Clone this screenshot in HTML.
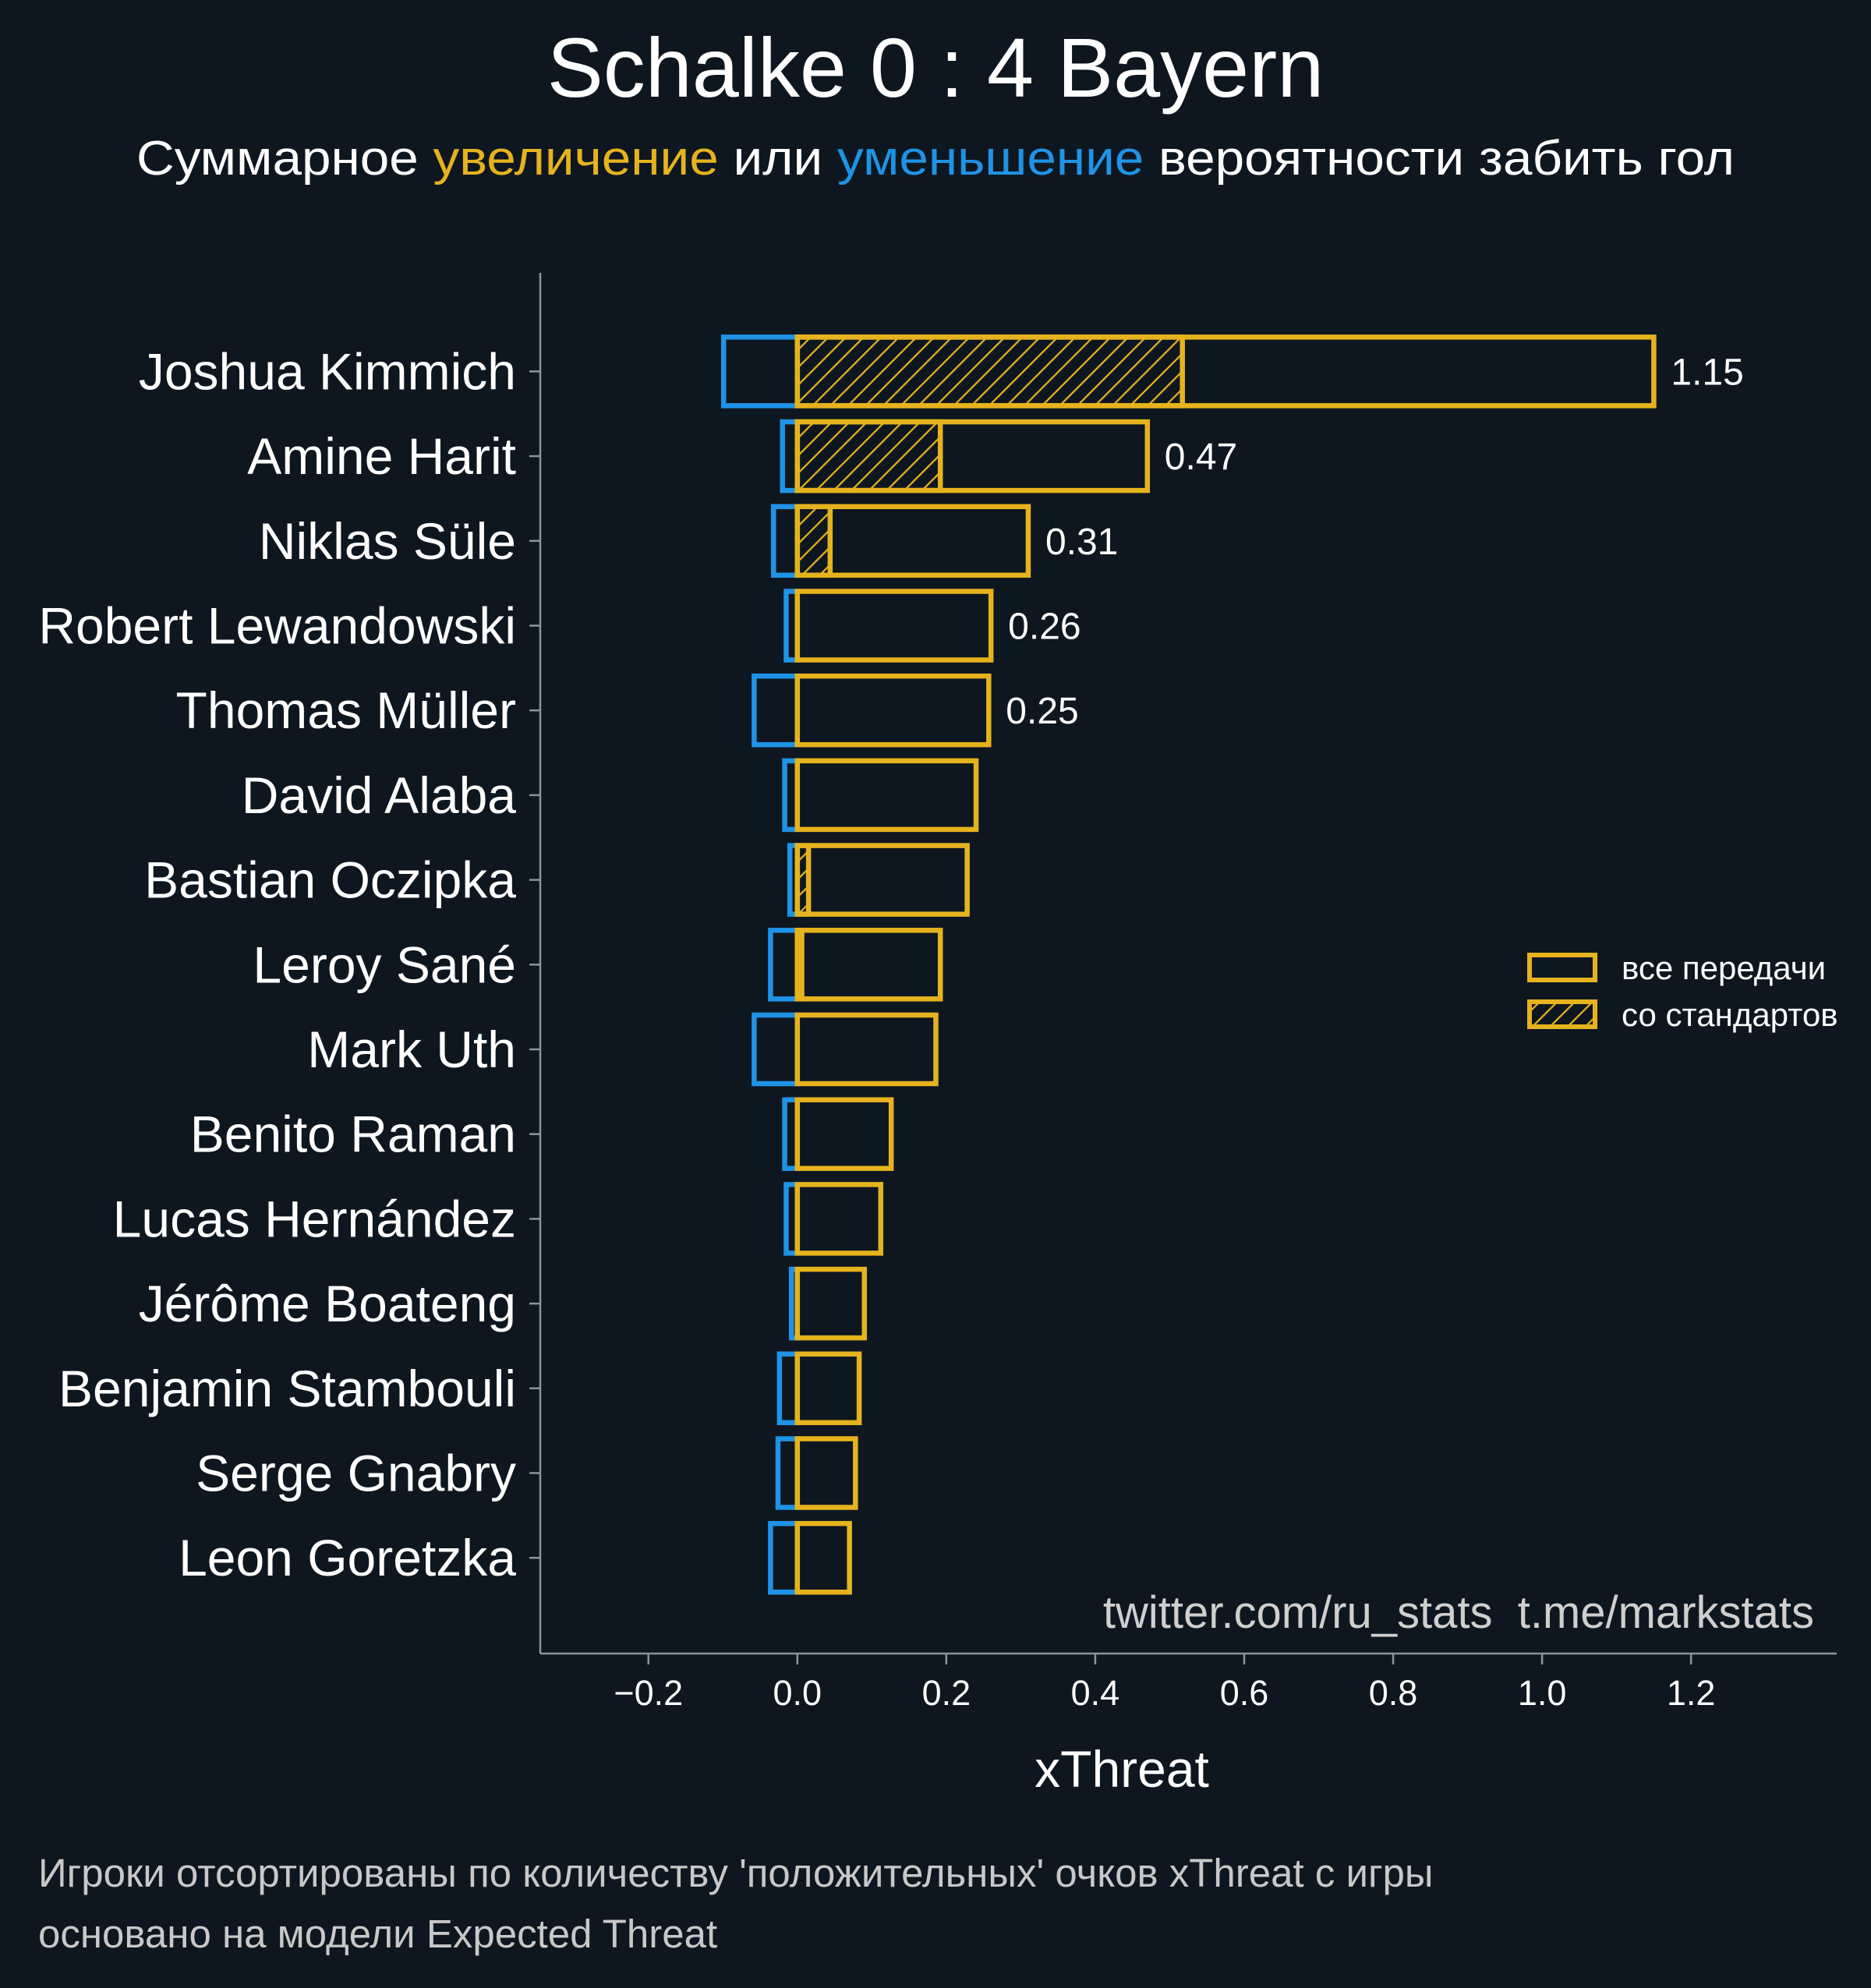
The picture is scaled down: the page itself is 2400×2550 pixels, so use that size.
<!DOCTYPE html>
<html><head><meta charset="utf-8"><style>
html,body{margin:0;padding:0;background:#0e1720;}
svg{display:block;font-family:"Liberation Sans","DejaVu Sans",sans-serif;}
</style></head><body>
<svg id="chart" width="2400" height="2550" viewBox="0 0 2400 2550" xmlns="http://www.w3.org/2000/svg">
<defs>
<pattern id="hatch" patternUnits="userSpaceOnUse" width="16" height="16" patternTransform="rotate(45)">
<line x1="0" y1="0" x2="0" y2="16" stroke="#e6b31e" stroke-width="4.5"/>
</pattern>
</defs>
<rect width="2400" height="2550" fill="#0e1720"/>
<text x="1200" y="124" text-anchor="middle" font-size="108" fill="#ffffff">Schalke 0 : 4 Bayern</text>
<text x="1200" y="224" text-anchor="middle" font-size="62" textLength="2050" lengthAdjust="spacingAndGlyphs" fill="#ffffff">Суммарное <tspan fill="#e6b31e">увеличение</tspan> или <tspan fill="#1f93e6">уменьшение</tspan> вероятности забить гол</text>
<g id="plot"></g>
<line x1="693" y1="350" x2="693" y2="2121" stroke="#8a95a0" stroke-width="2.5"/>
<line x1="693" y1="2121" x2="2356" y2="2121" stroke="#8a95a0" stroke-width="2.5"/>
<text x="1439" y="2292" text-anchor="middle" font-size="66" fill="#ffffff">xThreat</text>
<g>
<rect x="1962" y="1225" width="84" height="32" fill="none" stroke="#e6b31e" stroke-width="6"/>
<text x="2080" y="1256" font-size="42" fill="#ffffff">все передачи</text>
<rect x="1962" y="1285" width="84" height="32" fill="url(#hatch)" stroke="#e6b31e" stroke-width="6"/>
<text x="2080" y="1316" font-size="42" fill="#ffffff">со стандартов</text>
</g>
<text x="2327" y="2088" text-anchor="end" font-size="58" fill="#cfcfcf" xml:space="preserve">twitter.com/ru_stats  t.me/markstats</text>
<text x="49" y="2420" font-size="51" fill="#c8c8c8">Игроки отсортированы по количеству 'положительных' очков xThreat с игры</text>
<text x="49" y="2498" font-size="51" fill="#c8c8c8">основано на модели Expected Threat</text>
</svg>
<script>
const players = ["Joshua Kimmich","Amine Harit","Niklas Süle","Robert Lewandowski","Thomas Müller","David Alaba","Bastian Oczipka","Leroy Sané","Mark Uth","Benito Raman","Lucas Hernández","Jérôme Boateng","Benjamin Stambouli","Serge Gnabry","Leon Goretzka"];
const positive = [1.15,0.47,0.31,0.26,0.257,0.24,0.228,0.192,0.186,0.126,0.112,0.09,0.083,0.078,0.07];
const negative = [-0.099,-0.02,-0.032,-0.015,-0.058,-0.017,-0.01,-0.036,-0.058,-0.017,-0.015,-0.008,-0.024,-0.026,-0.036];
const setPiece = [0.517,0.192,0.044,0,0,0,0.015,0.006,0,0,0,0,0,0,0];
const valueLabels = ["1.15","0.47","0.31","0.26","0.25"];
const xTicks = [-0.2,0,0.2,0.4,0.6,0.8,1.0,1.2];
const xTickLabels = ["−0.2","0.0","0.2","0.4","0.6","0.8","1.0","1.2"];

const NS="http://www.w3.org/2000/svg";
const g=document.getElementById('plot');
const x=v=>1022.8+v*955.3;
const y=i=>476.4+i*108.7;
const bh=88;
function mk(tag,attrs){const e=document.createElementNS(NS,tag);for(const k in attrs)e.setAttribute(k,attrs[k]);g.appendChild(e);return e;}
xTicks.forEach((t,i)=>{
  const l=mk('line',{x1:x(t),x2:x(t),y1:2121,y2:2135,stroke:'#8a95a0','stroke-width':2.5});
  
  
  const tx=mk('text',{x:x(t),y:2187,'text-anchor':'middle','font-size':45,fill:'#ffffff'});
  tx.textContent=xTickLabels[i];
  
  
});
players.forEach((p,i)=>{
  const cy=y(i);
  const tk=mk('line',{x1:679,x2:693,y1:cy,y2:cy,stroke:'#8a95a0','stroke-width':2.5});
  
  
  const lb=mk('text',{x:662,y:cy+23,'text-anchor':'end','font-size':66,fill:'#ffffff'});
  lb.textContent=p;
  
  
  const nb=mk('rect',{x:x(negative[i]),y:cy-bh/2,width:x(0)-x(negative[i]),height:bh,fill:'none',stroke:'#1f93e6','stroke-width':6.5});
  
  
  if(setPiece[i]>0){
    const hb=mk('rect',{x:x(0),y:cy-bh/2,width:x(setPiece[i])-x(0),height:bh,fill:'url(#hatch)',stroke:'#e6b31e','stroke-width':6.5});
    
    
  }
  const pb=mk('rect',{x:x(0),y:cy-bh/2,width:x(positive[i])-x(0),height:bh,fill:'none',stroke:'#e6b31e','stroke-width':6.5});
  
  
  if(i<valueLabels.length){
    const vl=mk('text',{x:x(positive[i])+22,y:cy+17,'font-size':48,fill:'#ffffff'});
    vl.textContent=valueLabels[i];
    
    
  }
});
</script>
</body></html>
